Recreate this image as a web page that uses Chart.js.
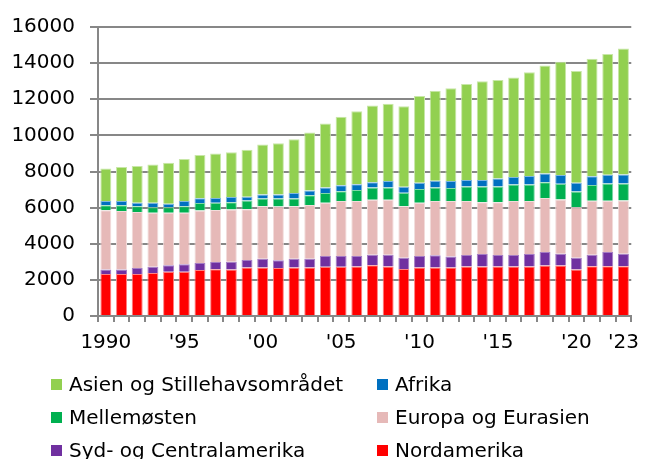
<!DOCTYPE html>
<html>
<head>
<meta charset="utf-8">
<script src="https://cdn.jsdelivr.net/npm/chart.js@4/dist/chart.umd.min.js"></script>
<style>
  html, body { margin: 0; padding: 0; background: #fff; }
  #wrap { position: relative; width: 648px; height: 459px; overflow: hidden; }
  #chart { position: absolute; left: 0; top: 0; }
  .leg { position: absolute; display: flex; align-items: center; height: 24px;
         font-family: "DejaVu Sans", Verdana, sans-serif; font-size: 20px; color: #000; white-space: nowrap; }
  .leg i { display: inline-block; width: 11px; height: 11px; margin-right: 7px; }
</style>
</head>
<body>
<div id="wrap">
  <canvas id="chart" width="648" height="459"></canvas>
  <div id="legend"></div>
</div>
<script>
// Years on the category axis
const years = [1990,1991,1992,1993,1994,1995,1996,1997,1998,1999,
               2000,2001,2002,2003,2004,2005,2006,2007,2008,2009,
               2010,2011,2012,2013,2014,2015,2016,2017,2018,2019,
               2020,2021,2022,2023];

// Labels shown under the axis (other years stay blank)
const tickLabels = { 1990: "1990", 1995: "'95", 2000: "'00", 2005: "'05",
                     2010: "'10", 2015: "'15", 2020: "'20", 2023: "'23" };

// Energy use by region (stacked from the bottom)
const nordamerika = [2320,2320,2320,2380,2450,2450,2540,2590,2570,2680,
                     2680,2660,2680,2680,2720,2720,2740,2810,2740,2600,
                     2680,2680,2680,2740,2740,2740,2740,2740,2790,2790,
                     2570,2760,2760,2760];
const sydCentral = [250,250,340,340,360,420,400,400,430,420,
                    490,420,490,490,600,600,580,580,650,630,
                    640,690,620,640,690,640,640,690,760,650,
                    650,630,790,690];
const europa = [3290,3250,3100,2990,2900,2850,2900,2880,2900,2810,
                2900,2980,2900,2980,2950,3050,3050,3050,3050,2850,
                2950,2990,3060,2990,2870,2920,2990,2940,2980,3010,
                2800,2990,2830,2940];
const mellemoesten = [270,310,310,310,310,360,420,400,400,490,
                      440,440,440,530,540,530,600,670,670,740,
                      760,750,720,800,870,870,910,910,870,870,
                      870,870,950,950];
const afrika = [230,230,200,250,200,290,260,260,290,200,
                220,220,300,270,310,340,330,290,360,330,
                350,380,400,360,360,440,410,470,490,490,
                490,490,490,490];
const asien = [1810,1890,2030,2120,2270,2320,2390,2460,2470,2600,
               2770,2850,2980,3210,3540,3790,4030,4260,4280,4460,
               4800,4980,5130,5320,5460,5460,5520,5750,5980,6260,
               6180,6500,6690,6980];

const series = [
  { label: "Nordamerika",                data: nordamerika,  color: "#FF0000", edge: "#FF8080" },
  { label: "Syd- og Centralamerika",     data: sydCentral,   color: "#7030A0", edge: "#A57CC4" },
  { label: "Europa og Eurasien",         data: europa,       color: "#E6B9B8", edge: "#F2DCDB" },
  { label: "Mellemøsten",                data: mellemoesten, color: "#00B050", edge: "#7FD7A7" },
  { label: "Afrika",                     data: afrika,       color: "#0070C0", edge: "#7FB7DF" },
  { label: "Asien og Stillehavsområdet", data: asien,        color: "#92D050", edge: "#C8E7A7" }
];

const FONT = { family: "'DejaVu Sans', Verdana, sans-serif", size: 20 };
const GRID = "#878787";

new Chart(document.getElementById("chart"), {
  type: "bar",
  data: {
    labels: years,
    datasets: series.map(s => ({
      label: s.label,
      data: s.data,
      backgroundColor: s.color,
      borderColor: s.edge,
      borderWidth: 1,
      barPercentage: 0.7,
      categoryPercentage: 1.0
    }))
  },
  options: {
    responsive: false,
    animation: false,
    devicePixelRatio: 1,
    layout: { padding: { top: 21, right: 7, bottom: 103, left: 0 } },
    plugins: { legend: { display: false }, tooltip: { enabled: false } },
    scales: {
      x: {
        stacked: true,
        afterFit: s => { s.height = 40; },
        grid: { display: true, drawOnChartArea: false, drawTicks: true,
                tickLength: 6, color: GRID, lineWidth: 2, offset: true },
        border: { display: true, color: GRID, width: 2 },
        ticks: {
          autoSkip: false, maxRotation: 0, minRotation: 0,
          color: "#000", font: FONT, padding: 9,
          callback: function (v, i) { return tickLabels[years[i]] || ""; }
        }
      },
      y: {
        stacked: true,
        min: 0, max: 16000,
        afterFit: s => { s.width = 98; },
        grid: { color: GRID, lineWidth: 2, tickLength: 8, drawTicks: true },
        border: { display: true, color: GRID, width: 2 },
        ticks: {
          stepSize: 2000, color: "#000", font: FONT, padding: 15,
          callback: v => String(v)
        }
      }
    }
  }
});

// Two-column legend, listed from the top of the stack downwards
const legendOrder = [5, 4, 3, 2, 1, 0];
const legendCols = [51, 377];
const legendRows = [372, 405, 438];
const legendEl = document.getElementById("legend");
legendOrder.forEach((idx, k) => {
  const s = series[idx];
  const d = document.createElement("div");
  d.className = "leg";
  d.style.left = legendCols[k % 2] + "px";
  d.style.top = legendRows[Math.floor(k / 2)] + "px";
  const box = document.createElement("i");
  box.style.background = s.color;
  d.appendChild(box);
  d.appendChild(document.createTextNode(s.label));
  legendEl.appendChild(d);
});
</script>
</body>
</html>
